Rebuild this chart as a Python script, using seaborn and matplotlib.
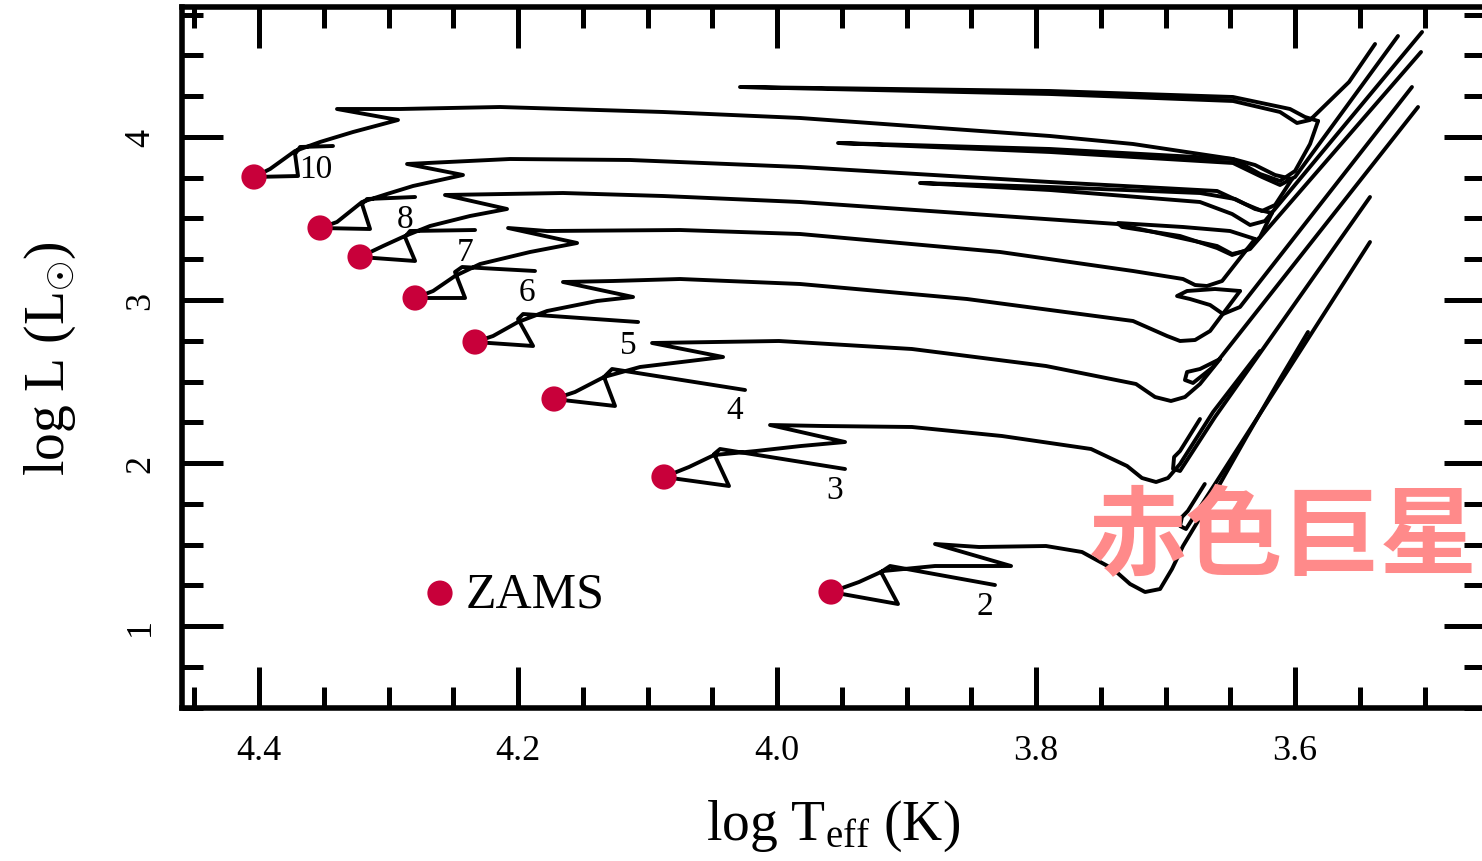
import numpy as np
import pandas as pd
import matplotlib
matplotlib.use("Agg")
import matplotlib.pyplot as plt
import seaborn as sns
from matplotlib.ticker import MultipleLocator

# ---------------- data ----------------
masses = ["10", "8", "7", "6", "5", "4", "3", "2"]

zams_logT = [4.4039, 4.3529, 4.3220, 4.2795, 4.2332, 4.1722, 4.0873, 3.9583]
zams_logL = [3.7546, 3.4417, 3.2638, 3.0123, 2.7423, 2.3926, 1.9141, 1.2086]

label_logT = [4.356, 4.2873, 4.2409, 4.193, 4.115, 4.0324, 3.9553, 3.8394]
label_logL = [3.8037, 3.4969, 3.2945, 3.049, 2.724, 2.3251, 1.8344, 1.1227]

track_10_T = [4.3429, 4.3683, 4.3722, 4.3699, 4.4039, 4.3915, 4.3722, 4.3529, 4.3274, 4.2927, 4.3398, 4.2911, 4.2139, 4.0880, 3.9822, 3.7892, 3.7251, 3.6479, 3.6270, 3.6116, 3.6000, 3.5884, 3.5822]
track_10_L = [3.9448, 3.9387, 3.8957, 3.7607, 3.7546, 3.8037, 3.9141, 3.9693, 4.0307, 4.1043, 4.1718, 4.1718, 4.1840, 4.1534, 4.1166, 4.0061, 3.9571, 3.8650, 3.7730, 3.7301, 3.7914, 3.9571, 4.0982]
loop_10_T = [3.5822, 3.5923, 3.6039, 3.6479, 3.7892, 4.0286, 3.7892, 3.6479, 3.6116, 3.5985, 3.5884, 3.5583, 3.5382]
loop_10_L = [4.0982, 4.1227, 4.1718, 4.2454, 4.2822, 4.3067, 4.2638, 4.2209, 4.1534, 4.0859, 4.1043, 4.3374, 4.5706]

track_8_T = [4.2795, 4.3166, 4.3205, 4.3143, 4.3529, 4.3398, 4.3205, 4.3012, 4.2811, 4.2425, 4.2857, 4.2062, 4.1135, 3.9822, 3.7892, 3.6602, 3.6386, 3.6255, 3.6154, 3.6023]
track_8_L = [3.6319, 3.6196, 3.5890, 3.4356, 3.4417, 3.4785, 3.6012, 3.6503, 3.6994, 3.7669, 3.8344, 3.8650, 3.8589, 3.8160, 3.7239, 3.6687, 3.5890, 3.5460, 3.5828, 3.7423]
loop_8_T = [3.6023, 3.6154, 3.6309, 3.6479, 3.7892, 3.9529, 3.7892, 3.6479, 3.6255, 3.6116, 3.6000, 3.5205]
loop_8_L = [3.7423, 3.7669, 3.8282, 3.8650, 3.9264, 3.9632, 3.9080, 3.8405, 3.7546, 3.7055, 3.7546, 4.6196]

track_7_T = [4.2332, 4.2834, 4.2873, 4.2795, 4.3220, 4.3042, 4.2873, 4.2680, 4.2371, 4.2085, 4.2564, 4.1653, 4.0880, 3.9822, 3.7375, 3.6602, 3.6486, 3.6386, 3.6270, 3.6178]
track_7_L = [3.4294, 3.4233, 3.3865, 3.2393, 3.2638, 3.3313, 3.3926, 3.4540, 3.5153, 3.5583, 3.6442, 3.6564, 3.6380, 3.6012, 3.4663, 3.3313, 3.2822, 3.3006, 3.3865, 3.5337]
loop_7_T = [3.6178, 3.6309, 3.6463, 3.6734, 3.7892, 3.8896, 3.7892, 3.6734, 3.6486, 3.6347, 3.6232, 3.5019]
loop_7_L = [3.5337, 3.5583, 3.6196, 3.6564, 3.6933, 3.7178, 3.6748, 3.6012, 3.5276, 3.4601, 3.4847, 4.6442]

track_6_T = [4.1869, 4.2432, 4.2487, 4.2409, 4.2795, 4.2656, 4.2487, 4.2293, 4.1907, 4.1544, 4.2077, 4.1776, 4.0749, 3.9822, 3.8278, 3.7251, 3.6865, 3.6772, 3.6680, 3.6563, 3.6309]
track_6_L = [3.1779, 3.2025, 3.1718, 3.0123, 3.0123, 3.0552, 3.1472, 3.2209, 3.2945, 3.3497, 3.4417, 3.4233, 3.4294, 3.4049, 3.2945, 3.1779, 3.1288, 3.0920, 3.0859, 3.1166, 3.3742]
loop_6_T = [3.6309, 3.6502, 3.6865, 3.7367, 3.7336, 3.6888, 3.6602, 3.6486, 3.6347, 3.5027]
loop_6_L = [3.3742, 3.4233, 3.4479, 3.4724, 3.4479, 3.3926, 3.3190, 3.2761, 3.3129, 4.5215]

track_5_T = [4.1073, 4.1961, 4.2000, 4.1884, 4.2332, 4.2193, 4.2000, 4.1776, 4.1390, 4.1112, 4.1653, 4.1266, 4.0749, 3.9822, 3.8533, 3.7251, 3.6988, 3.6888, 3.6772, 3.6656, 3.6425]
track_5_L = [2.8650, 2.9141, 2.8834, 2.7178, 2.7423, 2.7791, 2.8650, 2.9325, 2.9939, 3.0184, 3.1104, 3.1166, 3.1288, 3.0982, 3.0061, 2.8712, 2.7791, 2.7485, 2.7546, 2.8098, 3.0552]
loop_5_T = [3.6425, 3.6618, 3.6834, 3.6911, 3.6811, 3.6656, 3.6556, 3.6425, 3.5097]
loop_5_L = [3.0552, 3.0675, 3.0552, 3.0245, 3.0061, 2.9693, 2.9141, 2.9570, 4.3067]

track_4_T = [4.0247, 4.1274, 4.1336, 4.1251, 4.1722, 4.1560, 4.1336, 4.1058, 4.0672, 4.0417, 4.0965, 3.9985, 3.8958, 3.7923, 3.7228, 3.7081, 3.6958, 3.6850, 3.6734, 3.6579]
track_4_L = [2.4479, 2.5767, 2.5276, 2.3497, 2.3926, 2.4356, 2.5276, 2.5890, 2.6258, 2.6503, 2.7362, 2.7485, 2.6994, 2.5951, 2.4847, 2.4049, 2.3804, 2.4049, 2.4847, 2.6380]
loop_4_T = [3.6579, 3.6734, 3.6834, 3.6850, 3.6788, 3.6633, 3.5050]
loop_4_L = [2.6380, 2.5767, 2.5583, 2.5092, 2.4908, 2.5890, 4.1840]

track_3_T = [3.9475, 4.0440, 4.0486, 4.0371, 4.0873, 4.0680, 4.0486, 4.0162, 3.9815, 3.9475, 4.0054, 3.9645, 3.8958, 3.8263, 3.7575, 3.7297, 3.7182, 3.7073, 3.6981, 3.6888, 3.6633, 3.6270]
track_3_L = [1.9632, 2.0859, 2.0552, 1.8589, 1.9141, 1.9755, 2.0491, 2.0736, 2.1043, 2.1288, 2.2331, 2.2270, 2.2209, 2.1656, 2.0859, 1.9816, 1.9080, 1.8834, 1.9080, 1.9939, 2.3129, 2.6871]
loop_3_T = [3.6734, 3.6888, 3.6934, 3.6942, 3.6888, 3.6618, 3.5421]
loop_3_L = [2.2699, 2.0736, 2.0368, 1.9632, 1.9509, 2.2822, 3.6319]

track_2_T = [3.8317, 3.9127, 3.9197, 3.9066, 3.9583, 3.9367, 3.9181, 3.8780, 3.8193, 3.8780, 3.8440, 3.7923, 3.7645, 3.7405, 3.7274, 3.7158, 3.7042, 3.6950, 3.6865, 3.6633, 3.6371, 3.6116, 3.5900]
track_2_L = [1.2515, 1.3681, 1.3313, 1.1350, 1.2086, 1.2699, 1.3374, 1.3681, 1.3681, 1.5031, 1.4847, 1.4908, 1.4540, 1.3497, 1.2577, 1.2086, 1.2270, 1.3497, 1.4908, 1.7975, 2.1656, 2.5153, 2.8037]
loop_2_T = [3.6697, 3.6828, 3.6873, 3.6888, 3.6842, 3.6618, 3.5421]
loop_2_L = [1.8712, 1.7055, 1.6687, 1.6135, 1.5951, 1.8712, 3.3558]

paths = {
    "10 main": (track_10_T, track_10_L), "10 loop": (loop_10_T, loop_10_L),
    "8 main": (track_8_T, track_8_L), "8 loop": (loop_8_T, loop_8_L),
    "7 main": (track_7_T, track_7_L), "7 loop": (loop_7_T, loop_7_L),
    "6 main": (track_6_T, track_6_L), "6 loop": (loop_6_T, loop_6_L),
    "5 main": (track_5_T, track_5_L), "5 loop": (loop_5_T, loop_5_L),
    "4 main": (track_4_T, track_4_L), "4 loop": (loop_4_T, loop_4_L),
    "3 main": (track_3_T, track_3_L), "3 loop": (loop_3_T, loop_3_L),
    "2 main": (track_2_T, track_2_L), "2 loop": (loop_2_T, loop_2_L),
}

rows = []
for name, (tt, ll) in paths.items():
    for i, (t, l) in enumerate(zip(tt, ll)):
        rows.append({"path": name, "order": i, "logT": t, "logL": l})
df = pd.DataFrame(rows)

# ---------------- style ----------------
sns.set_theme(style="ticks")
plt.rcParams["font.family"] = ["Liberation Serif", "DejaVu Sans"]
plt.rcParams["mathtext.fontset"] = "custom"
plt.rcParams["mathtext.rm"] = "Liberation Serif"
plt.rcParams["mathtext.it"] = "Liberation Serif:italic"
for k in ["text.color", "axes.labelcolor", "xtick.color", "ytick.color", "axes.edgecolor"]:
    plt.rcParams[k] = "black"

RED = "#c8003a"
PINK = "#ff8a8a"

fig = plt.figure(figsize=(14.82, 8.62), dpi=100)
ax = fig.add_axes([182 / 1482, 153 / 862, 1303 / 1482, 701 / 862])

sns.lineplot(data=df, x="logT", y="logL", units="path", estimator=None, sort=False,
             color="black", linewidth=2.8, ax=ax, zorder=3)
for ln in ax.lines:
    ln.set_solid_joinstyle("round")
    ln.set_solid_capstyle("round")

sns.scatterplot(x=zams_logT, y=zams_logL, s=330, color=RED, edgecolor="none",
                ax=ax, zorder=5, label="ZAMS")

for lab, t, l in zip(masses, label_logT, label_logL):
    ax.text(t, l, lab, fontsize=24, ha="center", va="center", zorder=4)

ax.text(3.6093, 1.540, "赤色巨星", fontsize=70, color=PINK, family="Noto Sans CJK JP",
        fontweight="bold", ha="center", va="center", zorder=6)

ax.set_xlim(4.4595, 3.4533)
ax.set_ylim(0.497, 4.7975)

ax.xaxis.set_major_locator(MultipleLocator(0.2))
ax.xaxis.set_minor_locator(MultipleLocator(0.05))
ax.yaxis.set_major_locator(MultipleLocator(1))
ax.yaxis.set_minor_locator(MultipleLocator(0.25))

ax.tick_params(which="both", direction="in", top=True, right=True, width=3.6, color="black")
ax.tick_params(which="major", length=29.5)
ax.tick_params(which="minor", length=15)
ax.tick_params(axis="x", labelsize=26, pad=19)
ax.tick_params(axis="y", labelsize=26, pad=18, labelrotation=90)
for lab in ax.get_yticklabels():
    lab.set_va("center")

for s in ax.spines.values():
    s.set_linewidth(4)
    s.set_color("black")

ax.set_xlabel(r"log T$_{\mathrm{eff}}$ (K)", fontsize=40, labelpad=22)
ax.set_ylabel(r"log L (L$_{\odot}$)", fontsize=40, labelpad=33)

ax.legend(loc="center left", bbox_to_anchor=(0.1884, 0.1626), frameon=False, fontsize=36,
          handlelength=0.5, handletextpad=0.27, borderpad=0, borderaxespad=0)

fig.savefig("out.png", dpi=100)
